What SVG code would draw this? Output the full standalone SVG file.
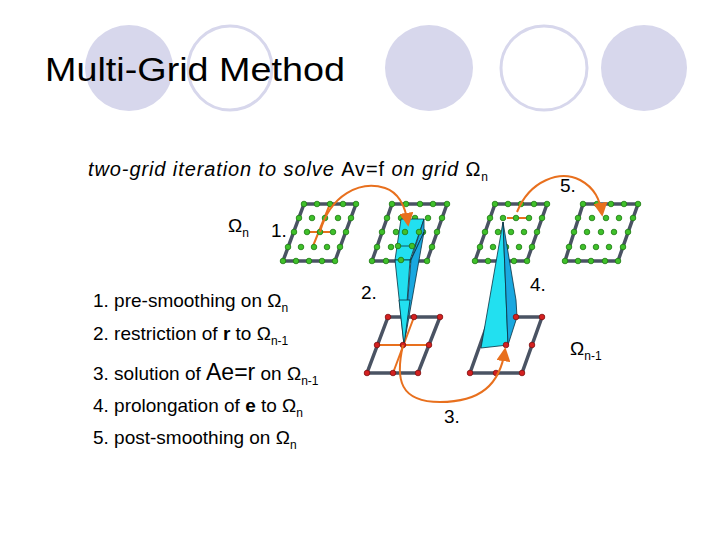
<svg xmlns="http://www.w3.org/2000/svg" width="720" height="540" viewBox="0 0 720 540">
<style>
text{font-family:"Liberation Sans",Arial,sans-serif;fill:#000}
.f{fill:#d7d7ec}.o{fill:none;stroke:#d7d7ec;stroke-width:3}
.e{stroke:#4a5363;stroke-width:3.5;fill:none}
.g{fill:#3fc02a;stroke:#1d7a12;stroke-width:0.8}
.r{fill:#d42020;stroke:#801010;stroke-width:0.8}
.or{stroke:#e8701e;stroke-width:2;fill:none}
.w{fill:#22e0f0;stroke:#0a3040;stroke-width:0.8}
.w2{fill:#1aa8e0;stroke:#0a3040;stroke-width:0.8}
.s{font-size:19px}
</style>
<defs><marker id="a" viewBox="0 0 10 10" refX="8" refY="5" markerWidth="7" markerHeight="7" orient="auto"><path d="M0,0L10,5L0,10z" fill="#e8701e"/></marker></defs>
<g id="bg">
<ellipse class="f" cx="129" cy="68" rx="44" ry="43"/>
<ellipse class="o" cx="230" cy="68" rx="42" ry="42"/>
<ellipse class="f" cx="429" cy="68" rx="44" ry="43"/>
<ellipse class="o" cx="544" cy="68" rx="43" ry="42"/>
<ellipse class="f" cx="644" cy="68" rx="43" ry="43"/>
</g>
<text x="45" y="81" font-size="33" textLength="300" lengthAdjust="spacingAndGlyphs">Multi-Grid Method</text>
<text x="88" y="176" font-size="20" font-style="italic" textLength="400">two-grid iteration to solve <tspan font-style="normal">Av=f</tspan> on grid <tspan font-style="normal">Ω</tspan><tspan font-style="normal" font-size="12" dy="5">n</tspan></text>
<g id="list" class="s">
<text x="93" y="307">1. pre-smoothing on Ω<tspan font-size="12" dy="5">n</tspan></text>
<text x="93" y="340">2. restriction of <tspan font-weight="bold">r</tspan> to Ω<tspan font-size="12" dy="5">n-1</tspan></text>
<text x="93" y="380">3. solution of <tspan font-size="23">Ae=r</tspan> on Ω<tspan font-size="12" dy="5">n-1</tspan></text>
<text x="93" y="412">4. prolongation of <tspan font-weight="bold">e</tspan> to Ω<tspan font-size="12" dy="5">n</tspan></text>
<text x="93" y="444">5. post-smoothing on Ω<tspan font-size="12" dy="5">n</tspan></text>
</g>
<g class="s">
<text x="228" y="232">Ω<tspan font-size="12" dy="5">n</tspan></text>
<text x="271" y="237">1.</text>
<text x="361" y="299">2.</text>
<text x="530" y="291">4.</text>
<text x="560" y="192">5.</text>
<text x="444" y="423">3.</text>
<text x="570" y="355">Ω<tspan font-size="12" dy="5">n-1</tspan></text>
</g>
<g id="grid1">
<path class="e" d="M304,204H356L335,261H283Z"/>
<path class="or" d="M330,204L313,246M309,232H330"/>
<g class="g">
<circle cx="304" cy="204" r="2.8"/><circle cx="317" cy="204" r="2.8"/><circle cx="330" cy="204" r="2.8"/><circle cx="343" cy="204" r="2.8"/><circle cx="356" cy="204" r="2.8"/>
<circle cx="299" cy="218" r="2.8"/><circle cx="312" cy="218" r="2.8"/><circle cx="325" cy="218" r="2.8"/><circle cx="338" cy="218" r="2.8"/><circle cx="351" cy="218" r="2.8"/>
<circle cx="294" cy="232" r="2.8"/><circle cx="307" cy="232" r="2.8"/><circle cx="320" cy="232" r="2.8"/><circle cx="333" cy="232" r="2.8"/><circle cx="346" cy="232" r="2.8"/>
<circle cx="288" cy="247" r="2.8"/><circle cx="301" cy="247" r="2.8"/><circle cx="314" cy="247" r="2.8"/><circle cx="327" cy="247" r="2.8"/><circle cx="340" cy="247" r="2.8"/>
<circle cx="283" cy="261" r="2.8"/><circle cx="296" cy="261" r="2.8"/><circle cx="309" cy="261" r="2.8"/><circle cx="322" cy="261" r="2.8"/><circle cx="335" cy="261" r="2.8"/>
</g></g>
<g id="grid2">
<path class="e" d="M392,204H447L427,261H372Z"/>
<g class="g">
<circle cx="392" cy="204" r="2.8"/><circle cx="406" cy="204" r="2.8"/><circle cx="420" cy="204" r="2.8"/><circle cx="433" cy="204" r="2.8"/><circle cx="447" cy="204" r="2.8"/>
<circle cx="387" cy="218" r="2.8"/><circle cx="401" cy="218" r="2.8"/><circle cx="415" cy="218" r="2.8"/><circle cx="428" cy="218" r="2.8"/><circle cx="442" cy="218" r="2.8"/>
<circle cx="382" cy="232" r="2.8"/><circle cx="396" cy="232" r="2.8"/><circle cx="410" cy="232" r="2.8"/><circle cx="423" cy="232" r="2.8"/><circle cx="437" cy="232" r="2.8"/>
<circle cx="377" cy="247" r="2.8"/><circle cx="391" cy="247" r="2.8"/><circle cx="405" cy="247" r="2.8"/><circle cx="418" cy="247" r="2.8"/><circle cx="432" cy="247" r="2.8"/>
<circle cx="372" cy="261" r="2.8"/><circle cx="386" cy="261" r="2.8"/><circle cx="400" cy="261" r="2.8"/><circle cx="413" cy="261" r="2.8"/><circle cx="427" cy="261" r="2.8"/>
</g>
<path class="w" d="M401,219L424,219L410,260L395,260Z"/>
<path class="w2" d="M424,219L424,232L411,260Z"/>
<path class="w" d="M395,260L410,260L404,345Z"/>
<path class="w2" d="M411,260L424,232L404,345Z"/>
<path d="M398,246H415" stroke="#0a3040" stroke-width="0.8"/>
<g class="g"><circle cx="405" cy="232" r="2.8"/><circle cx="398" cy="246" r="2.8"/><circle cx="412" cy="246" r="2.8"/><circle cx="419" cy="232" r="2.8"/><circle cx="401" cy="260" r="2.8"/></g>
</g>
<g id="grid3">
<path class="e" d="M495,204H547L527,261H475Z"/>
<path class="or" d="M507,218H528"/>
<g class="g">
<circle cx="495" cy="204" r="2.8"/><circle cx="508" cy="204" r="2.8"/><circle cx="521" cy="204" r="2.8"/><circle cx="534" cy="204" r="2.8"/><circle cx="547" cy="204" r="2.8"/>
<circle cx="490" cy="218" r="2.8"/><circle cx="503" cy="218" r="2.8"/><circle cx="516" cy="218" r="2.8"/><circle cx="529" cy="218" r="2.8"/><circle cx="542" cy="218" r="2.8"/>
<circle cx="485" cy="232" r="2.8"/><circle cx="498" cy="232" r="2.8"/><circle cx="511" cy="232" r="2.8"/><circle cx="524" cy="232" r="2.8"/><circle cx="537" cy="232" r="2.8"/>
<circle cx="480" cy="247" r="2.8"/><circle cx="493" cy="247" r="2.8"/><circle cx="506" cy="247" r="2.8"/><circle cx="519" cy="247" r="2.8"/><circle cx="532" cy="247" r="2.8"/>
<circle cx="475" cy="261" r="2.8"/><circle cx="488" cy="261" r="2.8"/><circle cx="501" cy="261" r="2.8"/><circle cx="514" cy="261" r="2.8"/><circle cx="527" cy="261" r="2.8"/>
</g></g>
<g id="grid4">
<path class="e" d="M583,204H638L618,261H565Z"/>
<g class="g">
<circle cx="583" cy="204" r="2.8"/><circle cx="597" cy="204" r="2.8"/><circle cx="611" cy="204" r="2.8"/><circle cx="624" cy="204" r="2.8"/><circle cx="638" cy="204" r="2.8"/>
<circle cx="578" cy="218" r="2.8"/><circle cx="592" cy="218" r="2.8"/><circle cx="606" cy="218" r="2.8"/><circle cx="619" cy="218" r="2.8"/><circle cx="633" cy="218" r="2.8"/>
<circle cx="574" cy="232" r="2.8"/><circle cx="587" cy="232" r="2.8"/><circle cx="601" cy="232" r="2.8"/><circle cx="614" cy="232" r="2.8"/><circle cx="628" cy="232" r="2.8"/>
<circle cx="569" cy="247" r="2.8"/><circle cx="583" cy="247" r="2.8"/><circle cx="596" cy="247" r="2.8"/><circle cx="609" cy="247" r="2.8"/><circle cx="623" cy="247" r="2.8"/>
<circle cx="565" cy="261" r="2.8"/><circle cx="578" cy="261" r="2.8"/><circle cx="591" cy="261" r="2.8"/><circle cx="605" cy="261" r="2.8"/><circle cx="618" cy="261" r="2.8"/>
</g></g>
<g id="coarseA">
<path class="e" d="M388,317H440L418,373H367Z"/>
<path class="or" d="M414,317L393,373M377,345H429"/>
<path class="w" d="M399,300L410,300L404,345Z"/>
<g class="r">
<circle cx="388" cy="317" r="2.8"/><circle cx="414" cy="317" r="2.8"/><circle cx="440" cy="317" r="2.8"/>
<circle cx="377" cy="345" r="2.8"/><circle cx="403" cy="345" r="2.8"/><circle cx="429" cy="345" r="2.8"/>
<circle cx="367" cy="373" r="2.8"/><circle cx="393" cy="373" r="2.8"/><circle cx="418" cy="373" r="2.8"/>
</g></g>
<g id="coarseB">
<path class="e" d="M490,317H542L522,373H470Z"/>
<path class="w" d="M503,222L508,345L481,348Z"/>
<path class="w2" d="M503,222L516,300L517,317L508,345Z"/>
<g class="r">
<circle cx="516" cy="317" r="2.8"/><circle cx="542" cy="317" r="2.8"/>
<circle cx="506" cy="345" r="2.8"/><circle cx="532" cy="345" r="2.8"/>
<circle cx="470" cy="373" r="2.8"/><circle cx="496" cy="373" r="2.8"/><circle cx="522" cy="373" r="2.8"/>
</g></g>
<g id="connectors">
<path class="or" marker-end="url(#a)" d="M320,232C330,195 360,180 385,188C400,193 406,210 408,224"/>
<path class="or" marker-end="url(#a)" d="M517,212C530,180 560,170 580,180C595,188 600,200 602,214"/>
<path class="or" marker-end="url(#a)" d="M403,345C395,380 400,402 440,402C480,402 500,385 505,350"/>
</g>
</svg>
